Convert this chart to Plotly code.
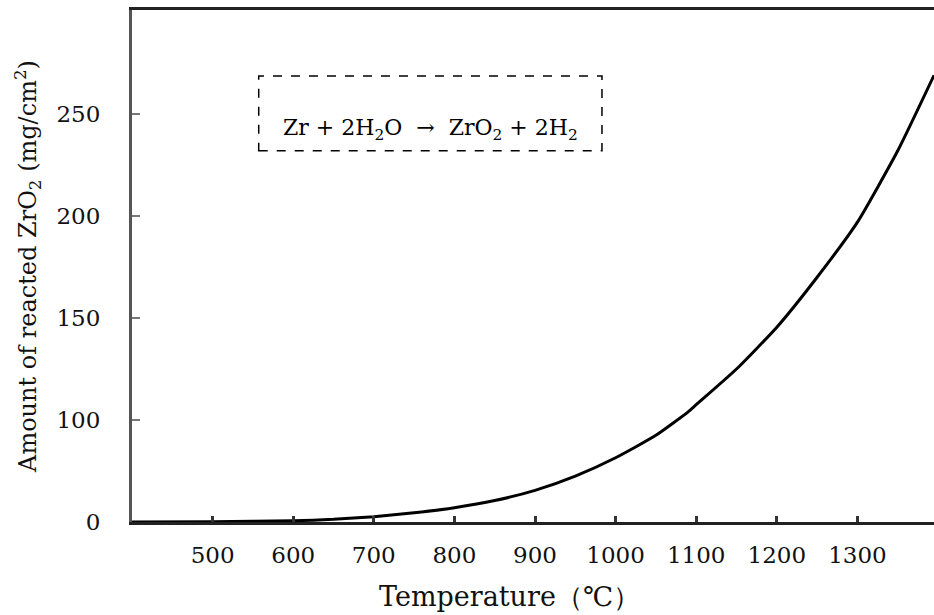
import plotly.graph_objects as go

# Temperature (°C) and amount of reacted ZrO2 (mg/cm^2)
temperature = [400, 500, 600, 650, 700, 750, 800, 850, 900, 950, 1000, 1050, 1090, 1100, 1150, 1200, 1250, 1300, 1350, 1395]
amount = [50, 50.1, 50.6, 51.3, 52.6, 54.5, 57, 60.5, 65.5, 72.5, 81.5, 92.5, 104, 107.5, 125, 145.5, 170, 197, 232, 269]

x_ticks = [500, 600, 700, 800, 900, 1000, 1100, 1200, 1300]
x_tick_text = ["500", "600", "700", "800", "900", "1000", "1100", "1200", "1300"]
y_ticks = [50, 100, 150, 200, 250]
y_tick_text = ["0", "100", "150", "200", "250"]

FONT = "DejaVu Serif"

fig = go.Figure()
fig.add_trace(go.Scatter(
    x=temperature, y=amount, mode="lines",
    line=dict(color="black", width=3, shape="spline", smoothing=0.5),
    hoverinfo="skip", showlegend=False,
))

fig.add_shape(type="rect", xref="paper", yref="paper",
              x0=0.158, x1=0.586, y0=0.725, y1=0.871,
              line=dict(color="black", width=1.5, dash="dash"))
fig.add_annotation(xref="paper", yref="paper", x=0.372, y=0.799,
                   text="Zr + 2H<sub>2</sub>O  →  ZrO<sub>2</sub> + 2H<sub>2</sub>",
                   showarrow=False, font=dict(family=FONT, size=22, color="black"))
# x-axis title (placed slightly left of centre, as in the reference)
fig.add_annotation(xref="paper", yref="paper", x=0.471, y=-0.146,
                   yanchor="middle", xanchor="center",
                   text="Temperature（℃）", showarrow=False,
                   font=dict(family=FONT, size=27, color="#111"))

fig.update_layout(
    width=934, height=615,
    margin=dict(l=132, r=0, t=10, b=93),
    paper_bgcolor="white", plot_bgcolor="white",
    font=dict(family=FONT, size=23, color="#111"),
    xaxis=dict(
        range=[400, 1395], tickvals=x_ticks, ticktext=x_tick_text,
        ticks="inside", ticklen=6, tickwidth=3, tickcolor="#333",
        showline=True, linecolor="#222", linewidth=3, mirror=True,
        showgrid=False, zeroline=False, ticklabelstandoff=10,
    ),
    yaxis=dict(
        range=[50, 301], tickvals=y_ticks, ticktext=y_tick_text,
        ticks="inside", ticklen=8, tickwidth=2, tickcolor="#777",
        showline=True, linecolor="#555", linewidth=3,
        showgrid=False, zeroline=False, ticklabelstandoff=24,
        title=dict(text="Amount of reacted ZrO<sub>2</sub> (mg/cm<sup>2</sup>)",
                   font=dict(family=FONT, size=24), standoff=14),
    ),
)

fig.write_html("out.html", config={"displayModeBar": False},
               post_script="document.body.style.margin='0px';")
